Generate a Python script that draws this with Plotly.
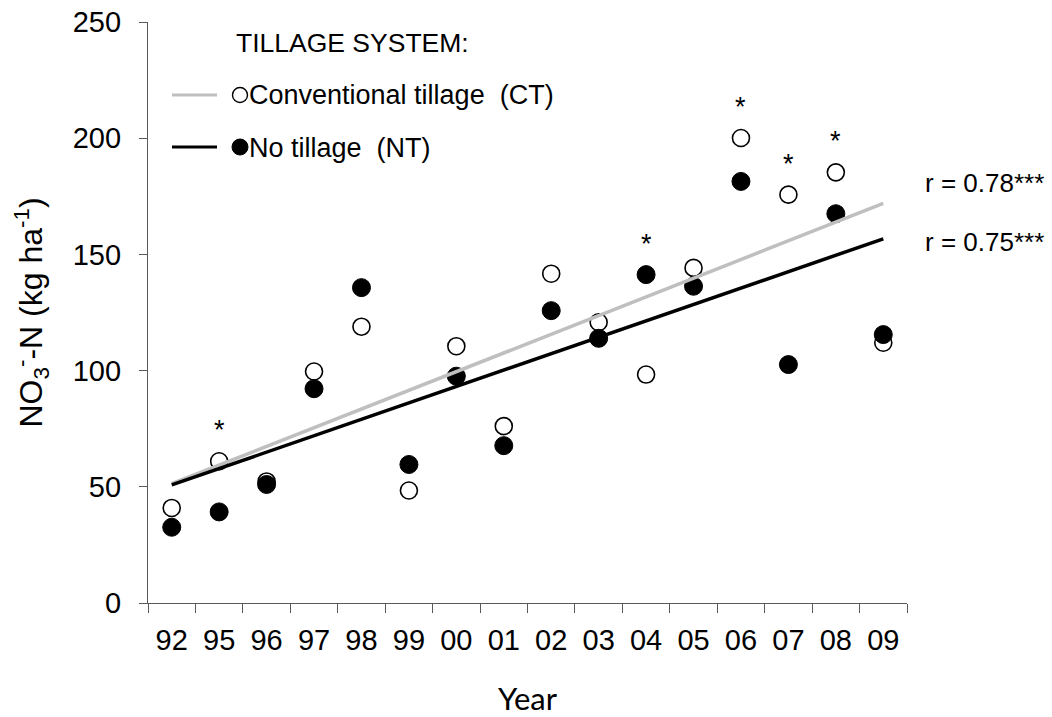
import numpy as np
import plotly.graph_objects as go

# ---- data ----
years = ["92", "95", "96", "97", "98", "99", "00", "01", "02", "03", "04", "05", "06", "07", "08", "09"]
ct_values = [40.9, 61.0, 52.3, 99.6, 118.9, 48.4, 110.5, 76.1, 141.7, 120.8, 98.3, 144.2, 200.1, 175.7, 185.3, 112.0]
nt_values = [32.6, 39.2, 51.0, 92.2, 135.7, 59.6, 97.6, 67.7, 125.8, 113.9, 141.3, 136.3, 181.4, 102.6, 167.5, 115.5]
sig_years = ["95", "04", "06", "07", "08"]
r_ct = "0.78***"
r_nt = "0.75***"
y_ticks = [0, 50, 100, 150, 200, 250]

# ---- layout geometry ----
W, H = 1052, 717
ML, MR, MT, MB = 148, 145, 22, 114
PW, PH = W - ML - MR, H - MT - MB


def px_x(px):
    return (px - ML) / PW


def px_y(py):
    return (H - MB - py) / PH


FONT = "Liberation Sans, Arial, sans-serif"
GRAY = "#BFBFBF"
AX = "#595959"

idx = np.arange(len(years))
ct_fit = np.polyfit(idx, ct_values, 1)
nt_fit = np.polyfit(idx, nt_values, 1)
ends = np.array([idx[0], idx[-1]])
boundaries = np.arange(len(years) + 1) - 0.5

fig = go.Figure()
fig.add_trace(go.Scatter(
    x=idx, y=ct_values, mode="markers", name="CT",
    marker=dict(symbol="circle", size=17, color="white", line=dict(color="black", width=1.6)),
))
fig.add_trace(go.Scatter(
    x=idx, y=nt_values, mode="markers", name="NT",
    marker=dict(symbol="circle", size=18, color="black", line=dict(color="black", width=1)),
))
fig.add_trace(go.Scatter(
    x=ends, y=np.polyval(ct_fit, ends), mode="lines", name="CT fit",
    line=dict(color=GRAY, width=3.5),
))
fig.add_trace(go.Scatter(
    x=ends, y=np.polyval(nt_fit, ends), mode="lines", name="NT fit",
    line=dict(color="black", width=3.5),
))

annotations = []
for yr in sig_years:
    i = years.index(yr)
    top = max(ct_values[i], nt_values[i])
    annotations.append(dict(
        x=int(i), y=top, xref="x", yref="y", text="*", showarrow=False,
        yanchor="middle", yshift=31, font=dict(family=FONT, size=27, color="black"),
    ))

# r labels
annotations.append(dict(
    x=1, xref="paper", xshift=16, xanchor="left", y=px_y(183), yref="paper", yanchor="middle",
    text="r = " + r_ct, showarrow=False, font=dict(family=FONT, size=26, color="black"),
))
annotations.append(dict(
    x=1, xref="paper", xshift=16, xanchor="left", y=px_y(242), yref="paper", yanchor="middle",
    text="r = " + r_nt, showarrow=False, font=dict(family=FONT, size=26, color="black"),
))

# legend block
annotations.append(dict(
    x=px_x(234), y=px_y(43), xref="paper", yref="paper", xanchor="left", yanchor="middle",
    text="TILLAGE SYSTEM:", showarrow=False, font=dict(family=FONT, size=26.5, color="black"),
))
annotations.append(dict(
    x=px_x(247), y=px_y(95), xref="paper", yref="paper", xanchor="left", yanchor="middle",
    text="Conventional tillage\u00a0\u00a0(CT)", showarrow=False,
    font=dict(family=FONT, size=27, color="black"),
))
annotations.append(dict(
    x=px_x(247), y=px_y(148), xref="paper", yref="paper", xanchor="left", yanchor="middle",
    text="No tillage\u00a0\u00a0(NT)", showarrow=False,
    font=dict(family=FONT, size=27, color="black"),
))

shapes = [
    dict(type="line", xref="paper", yref="paper", x0=px_x(172), x1=px_x(217), y0=px_y(95), y1=px_y(95),
         line=dict(color=GRAY, width=3)),
    dict(type="line", xref="paper", yref="paper", x0=px_x(172), x1=px_x(217), y0=px_y(147), y1=px_y(147),
         line=dict(color="black", width=3)),
    dict(type="circle", xref="paper", yref="paper", xsizemode="pixel", ysizemode="pixel",
         xanchor=px_x(240), yanchor=px_y(95), x0=-7.5, x1=7.5, y0=-7.5, y1=7.5,
         line=dict(color="black", width=1.4), fillcolor="white"),
    dict(type="circle", xref="paper", yref="paper", xsizemode="pixel", ysizemode="pixel",
         xanchor=px_x(240), yanchor=px_y(147), x0=-8, x1=8, y0=-8, y1=8,
         line=dict(color="black", width=1), fillcolor="black"),
]

fig.update_layout(
    width=W, height=H, autosize=False,
    margin=dict(l=ML, r=MR, t=MT, b=MB),
    paper_bgcolor="white", plot_bgcolor="white",
    showlegend=False,
    font=dict(family=FONT, color="black"),
    annotations=annotations, shapes=shapes,
    xaxis=dict(
        range=[boundaries[0], boundaries[-1]],
        tickmode="array", tickvals=idx, ticktext=years, ticks="", tickangle=0,
        minor=dict(tickmode="array", tickvals=boundaries, ticks="outside", ticklen=9,
                   tickwidth=1.3, tickcolor=AX, showgrid=False),
        showline=True, linecolor=AX, linewidth=1.3, showgrid=False, zeroline=False,
        tickfont=dict(family=FONT, size=29, color="black"), ticklabelstandoff=11,
        title=dict(text="Year", font=dict(family="Lato, Liberation Sans, sans-serif", size=31, color="black"),
                   standoff=33),
        automargin=False, fixedrange=True,
    ),
    yaxis=dict(
        range=[0, 250], tickvals=y_ticks, ticks="outside", ticklen=8, tickwidth=1.3, tickcolor=AX,
        showline=True, linecolor=AX, linewidth=1.3, showgrid=False, zeroline=False,
        tickfont=dict(family=FONT, size=29, color="black"), ticklabelstandoff=12,
        title=dict(text="NO<sub>3</sub><sup>-</sup>-N (kg ha<sup>-1</sup>)",
                   font=dict(family=FONT, size=32, color="black"), standoff=20),
        automargin=False, fixedrange=True,
    ),
)

fig.write_html("out.html")
